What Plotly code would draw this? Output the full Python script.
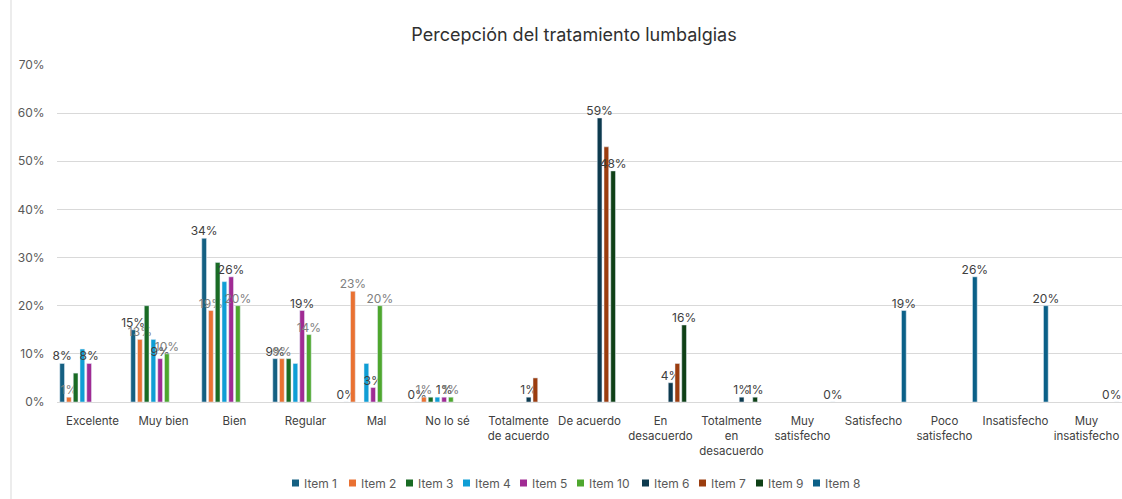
import plotly.graph_objects as go

categories = ["Excelente", "Muy bien", "Bien", "Regular", "Mal", "No lo sé",
              "Totalmente<br>de acuerdo", "De acuerdo", "En<br>desacuerdo",
              "Totalmente<br>en<br>desacuerdo", "Muy<br>satisfecho", "Satisfecho",
              "Poco<br>satisfecho", "Insatisfecho", "Muy<br>insatisfecho"]

series_names = ["Item 1", "Item 2", "Item 3", "Item 4", "Item 5", "Item 10",
                "Item 6", "Item 7", "Item 9", "Item 8"]

N = None
item1 = [0.08, 0.15, 0.34, 0.09, 0.00, 0.00, N, N, N, N, N, N, N, N, N]
item2 = [0.01, 0.13, 0.19, 0.09, 0.23, 0.01, N, N, N, N, N, N, N, N, N]
item3 = [0.06, 0.20, 0.29, 0.09, N, 0.01, N, N, N, N, N, N, N, N, N]
item4 = [0.11, 0.13, 0.25, 0.08, 0.08, 0.01, N, N, N, N, N, N, N, N, N]
item5 = [0.08, 0.09, 0.26, 0.19, 0.03, 0.01, N, N, N, N, N, N, N, N, N]
item10 = [N, 0.10, 0.20, 0.14, 0.20, 0.01, N, N, N, N, N, N, N, N, N]
item6 = [N, N, N, N, N, N, 0.01, 0.59, 0.04, 0.01, N, N, N, N, N]
item7 = [N, N, N, N, N, N, 0.05, 0.53, 0.08, N, N, N, N, N, N]
item9 = [N, N, N, N, N, N, N, 0.48, 0.16, 0.01, N, N, N, N, N]
item8 = [N, N, N, N, N, N, N, N, N, N, 0.00, 0.19, 0.26, 0.20, 0.00]

NB = "\u00a0"
# data labels shown in the reference (empty = no label)
lab1 = ["8%", "15%", "34%", "9%", "0%", "0%", "", "", "", "", "", "", "", "", ""]
lab2 = ["1%", "13%", "19%", "9%", "23%", "1%", "", "", "", "", "", "", "", "", ""]
lab3 = [""] * 15
lab4 = [""] * 15
lab5 = ["8%", "9%", "26%", "19%", "3%", "1%", "", "", "", "", "", "", "", "", ""]
lab10 = ["", "10%", "20%", "14%", "20%", "1%", "", "", "", "", "", "", "", "", ""]
lab6 = ["", "", "", "", "", "", "1%", "59%", "4%", "1%", "", "", "", "", ""]
lab7 = [""] * 15
lab9 = ["", "", "", "", "", "", "", "48%", "16%", "1%", "", "", "", "", ""]
lab8 = ["", "", "", "", "", "", "", "", "", "", "0%", "19%", "26%", "20%", "0%" + NB * 3]

values = [item1, item2, item3, item4, item5, item10, item6, item7, item9, item8]
labels = [lab1, lab2, lab3, lab4, lab5, lab10, lab6, lab7, lab9, lab8]
colors = ["#156082", "#E97132", "#196B24", "#0F9ED5", "#A02B93", "#4EA72E",
          "#0D3A4E", "#9B3D0F", "#0F4016", "#0B6088"]
label_colors = ["#404040", "#808080", "#404040", "#404040", "#404040", "#808080",
                "#404040", "#404040", "#404040", "#404040"]

FONT = "Inter"
W, H = 1122, 499
ML, MR, MT, MB = 57, 0, 65, 97
PW = W - ML - MR
PH = H - MT - MB

fig = go.Figure()
for name, vals, labs, col, lc in zip(series_names, values, labels, colors, label_colors):
    fig.add_trace(go.Bar(
        name=name, x=categories, y=vals, marker_color=col,
        text=labs, textposition="outside", cliponaxis=False,
        constraintext="none",
        textfont=dict(family=FONT, size=12, color=lc),
        hoverinfo="x+y+name", showlegend=False,
    ))

fig.update_layout(
    width=W, height=H,
    paper_bgcolor="white", plot_bgcolor="white",
    margin=dict(l=ML, r=MR, t=MT, b=MB, autoexpand=False),
    barmode="group", bargap=0.05, bargroupgap=0.3,
    title=dict(text="Percepción del tratamiento lumbalgias", x=574 / W, xanchor="center",
               y=1 - 35 / H, yanchor="middle",
               font=dict(family=FONT, size=18, color="#303030")),
    font=dict(family=FONT, color="#404040"),
    showlegend=False,
)
fig.update_yaxes(range=[0, 0.7], dtick=0.1, tickformat=".0%", automargin=False,
                 showgrid=True, gridcolor="#D9D9D9", gridwidth=1,
                 zeroline=True, zerolinecolor="#D9D9D9", zerolinewidth=1,
                 tickfont=dict(family=FONT, size=12, color="#595959"),
                 ticks="outside", ticklen=9, tickcolor="rgba(0,0,0,0)")
fig.update_xaxes(tickfont=dict(family=FONT, size=11.5, color="#404040"), automargin=False,
                 showline=True, linecolor="#D9D9D9", linewidth=1,
                 ticks="outside", ticklen=8, tickcolor="rgba(0,0,0,0)")

# chart-area border on the left
bx = (11 - ML) / PW
fig.add_shape(type="line", xref="paper", yref="paper",
              x0=bx, x1=bx, y0=-0.4, y1=1.3,
              line=dict(color="#D9D9D9", width=1))

# compact legend (Excel style), built from the series list
legend_y_px = 483
yp = (H - MB - legend_y_px) / PH
x_px = 292
for name, col in zip(series_names, colors):
    x0 = (x_px - ML) / PW
    x1 = (x_px + 7 - ML) / PW
    fig.add_shape(type="rect", xref="paper", yref="paper",
                  x0=x0, x1=x1, y0=yp - 3.5 / PH, y1=yp + 3.5 / PH,
                  fillcolor=col, line=dict(width=0))
    fig.add_annotation(text=name, xref="paper", yref="paper",
                       x=(x_px + 10 - ML) / PW, y=yp, xanchor="left", yanchor="middle",
                       showarrow=False,
                       font=dict(family=FONT, size=12, color="#595959"))
    x_px += 57 + 8 * (len(name) - 6)

fig.write_html(
    "out.html",
    config={"displayModeBar": False},
    post_script="document.body.style.margin='0';document.body.style.overflow='hidden';",
)
